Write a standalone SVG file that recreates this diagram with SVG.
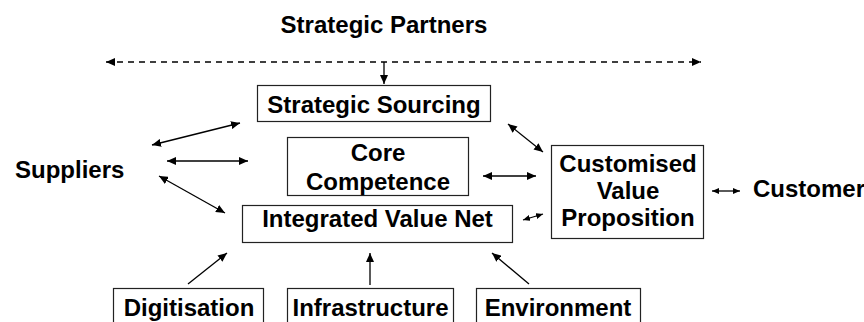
<svg xmlns="http://www.w3.org/2000/svg" width="864" height="322" viewBox="0 0 864 322">
<style>
text{font-family:"Liberation Sans",Arial,sans-serif;font-weight:bold;font-size:24px;fill:#000}
.box{fill:#fff;stroke:#222;stroke-width:1.2}
.c{text-anchor:middle}
.ln{stroke:#000;stroke-width:1.3;fill:none}
.dash{stroke-dasharray:6 5}
</style>
<defs>
<marker id="ah" markerUnits="userSpaceOnUse" markerWidth="10" markerHeight="8" refX="9" refY="4" orient="auto-start-reverse">
<path d="M0,0 L9,4 L0,8 Z" fill="#000"/>
</marker>
<marker id="ahs" markerUnits="userSpaceOnUse" markerWidth="8" markerHeight="6" refX="7" refY="3" orient="auto-start-reverse">
<path d="M0,0 L7,3 L0,6 Z" fill="#000"/>
</marker>
</defs>
<rect width="864" height="322" fill="#fff"/>
<g id="strategic-partners"><text class="c" x="384" y="33">Strategic Partners</text></g>
<g id="suppliers"><text x="15" y="178">Suppliers</text></g>
<g id="customer"><text x="753" y="197">Customer</text></g>
<g id="strategic-sourcing"><rect class="box" x="257.5" y="85.5" width="233" height="36"/><text class="c" x="374" y="113">Strategic Sourcing</text></g>
<g id="core-competence"><rect class="box" x="287.5" y="137.5" width="181" height="58"/><text class="c" x="378" y="161">Core</text><text class="c" x="378" y="190">Competence</text></g>
<g id="integrated-value-net"><rect class="box" x="242.5" y="205.5" width="270" height="37"/><text class="c" x="377.5" y="227">Integrated Value Net</text></g>
<g id="customised-value-proposition"><rect class="box" x="551.5" y="145.5" width="152" height="93"/><text class="c" x="628" y="172">Customised</text><text class="c" x="628" y="199">Value</text><text class="c" x="628" y="226">Proposition</text></g>
<g id="digitisation"><rect class="box" x="113.5" y="288.5" width="150" height="40"/><text class="c" x="189" y="316">Digitisation</text></g>
<g id="infrastructure"><rect class="box" x="287.5" y="288.5" width="166" height="40"/><text class="c" x="370.5" y="316">Infrastructure</text></g>
<g id="environment"><rect class="box" x="476.5" y="288.5" width="164" height="40"/><text class="c" x="558" y="316">Environment</text></g>
<g id="connectors">
<line class="ln dash" x1="106" y1="62" x2="701" y2="62" marker-start="url(#ah)" marker-end="url(#ah)"/>
<line class="ln" x1="384" y1="62" x2="384" y2="84" marker-end="url(#ah)"/>
<line class="ln" x1="152" y1="145" x2="240" y2="123" marker-start="url(#ah)" marker-end="url(#ah)"/>
<line class="ln" x1="167" y1="161" x2="248" y2="161" marker-start="url(#ah)" marker-end="url(#ah)"/>
<line class="ln" x1="159" y1="176" x2="225" y2="213" marker-start="url(#ah)" marker-end="url(#ah)"/>
<line class="ln" x1="508" y1="124" x2="543" y2="152" marker-start="url(#ah)" marker-end="url(#ah)"/>
<line class="ln" x1="483" y1="176" x2="536" y2="176" marker-start="url(#ah)" marker-end="url(#ah)"/>
<line class="ln" x1="523" y1="220" x2="543" y2="214" marker-start="url(#ahs)" marker-end="url(#ahs)"/>
<line class="ln" x1="712" y1="191" x2="740" y2="191" marker-start="url(#ahs)" marker-end="url(#ahs)"/>
<line class="ln" x1="188" y1="284" x2="227" y2="253" marker-end="url(#ah)"/>
<line class="ln" x1="370" y1="285" x2="370" y2="253" marker-end="url(#ah)"/>
<line class="ln" x1="529" y1="284" x2="492" y2="253" marker-end="url(#ah)"/>
</g>
</svg>
